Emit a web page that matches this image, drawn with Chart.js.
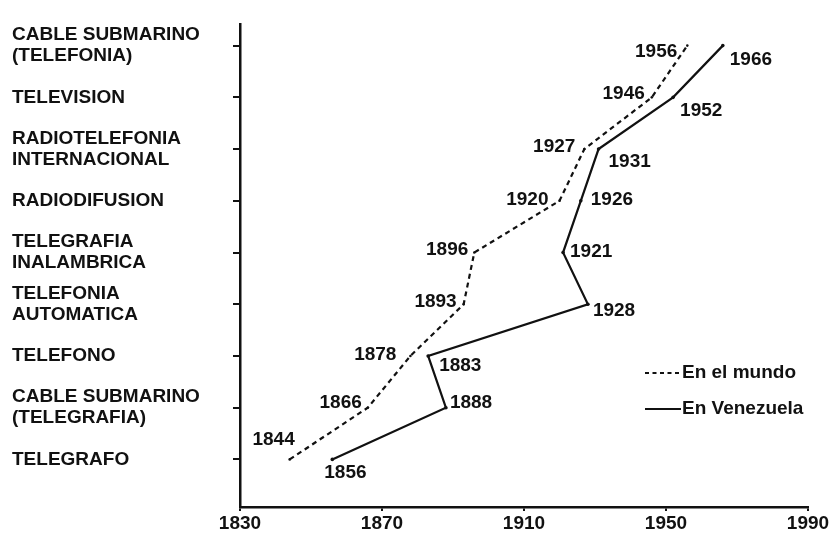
<!DOCTYPE html>
<html>
<head>
<meta charset="utf-8">
<script src="https://cdn.jsdelivr.net/npm/chart.js@4/dist/chart.umd.min.js"></script>
<style>
  html, body { margin: 0; padding: 0; background: #ffffff; }
  #wrap { width: 835px; height: 537px; position: relative; }
</style>
</head>
<body>
<div id="wrap"><canvas id="c" width="835" height="537"></canvas></div>
<script>
// ---- data ----
const categories = [
  ["TELEGRAFO"],
  ["CABLE SUBMARINO", "(TELEGRAFIA)"],
  ["TELEFONO"],
  ["TELEFONIA", "AUTOMATICA"],
  ["TELEGRAFIA", "INALAMBRICA"],
  ["RADIODIFUSION"],
  ["RADIOTELEFONIA", "INTERNACIONAL"],
  ["TELEVISION"],
  ["CABLE SUBMARINO", "(TELEFONIA)"]
];
const worldYears     = [1844, 1866, 1878, 1893, 1896, 1920, 1927, 1946, 1956];
const venezuelaYears = [1856, 1888, 1883, 1928, 1921, 1926, 1931, 1952, 1966];
const xTickLabels    = [1830, 1870, 1910, 1950, 1990];
const seriesNames    = ["En el mundo", "En Venezuela"];

// ---- label placement (style only): [align, dx, dy] ----
const worldLabelPlace = [
  ["right", 5, -20], ["right", -6, -5], ["right", -14, -1], ["right", -7, -2],
  ["right", -6, -3], ["right", -11, -1], ["right", -9, -2], ["right", -7, -4], ["right", -10, 6]
];
const venLabelPlace = [
  ["left", -8, 13], ["left", 4, -5], ["left", 11, 10], ["left", 5, 7],
  ["left", 7, -1], ["left", 10, -1], ["left", 10, 13], ["left", 7, 13], ["left", 7, 14]
];

const FONT = "'Liberation Sans', Arial, Helvetica, sans-serif";
const INK = "#111111";
const FS = 19;

const worldPts = worldYears.map((yr, i) => ({ x: yr, y: i + 1 }));
const venPts = venezuelaYears.map((yr, i) => ({ x: yr, y: i + 1 }));

const yearLabels = {
  id: 'yearLabels',
  afterDatasetsDraw(chart) {
    const ctx = chart.ctx;
    ctx.save();
    ctx.font = "bold " + FS + "px " + FONT;
    ctx.fillStyle = INK;
    ctx.textBaseline = "middle";
    const sets = [[0, worldYears, worldLabelPlace], [1, venezuelaYears, venLabelPlace]];
    sets.forEach(([di, yrs, place]) => {
      const meta = chart.getDatasetMeta(di);
      meta.data.forEach((el, i) => {
        const p = place[i];
        ctx.textAlign = p[0];
        ctx.fillText(String(yrs[i]), el.x + p[1], el.y + p[2]);
      });
    });
    ctx.restore();
  }
};

const customLegend = {
  id: 'customLegend',
  afterDraw(chart) {
    const ctx = chart.ctx;
    ctx.save();
    ctx.strokeStyle = INK;
    ctx.lineWidth = 2;
    ctx.setLineDash([4, 3.5]);
    ctx.beginPath(); ctx.moveTo(645, 373); ctx.lineTo(681, 373); ctx.stroke();
    ctx.setLineDash([]);
    ctx.beginPath(); ctx.moveTo(645, 409); ctx.lineTo(681, 409); ctx.stroke();
    ctx.font = "bold " + FS + "px " + FONT;
    ctx.fillStyle = INK;
    ctx.textAlign = "left";
    ctx.textBaseline = "middle";
    ctx.fillText(seriesNames[0], 682, 373);
    ctx.fillText(seriesNames[1], 682, 409);
    ctx.restore();
  }
};

new Chart(document.getElementById('c'), {
  type: 'scatter',
  data: {
    datasets: [
      {
        label: seriesNames[0],
        data: worldPts,
        showLine: true,
        borderColor: INK,
        backgroundColor: INK,
        borderWidth: 2.2,
        borderDash: [5, 4],
        pointRadius: 1.3,
        pointBorderWidth: 0,
        tension: 0
      },
      {
        label: seriesNames[1],
        data: venPts,
        showLine: true,
        borderColor: INK,
        backgroundColor: INK,
        borderWidth: 2.2,
        pointRadius: 1.8,
        pointBorderWidth: 0,
        tension: 0
      }
    ]
  },
  options: {
    responsive: false,
    animation: false,
    devicePixelRatio: 1,
    layout: { padding: { left: 12, right: 27, top: 12, bottom: 0 } },
    plugins: { legend: { display: false }, tooltip: { enabled: false } },
    scales: {
      x: {
        type: 'linear',
        min: xTickLabels[0],
        max: xTickLabels[xTickLabels.length - 1],
        afterBuildTicks(scale) { scale.ticks = xTickLabels.map(v => ({ value: v })); },
        afterFit(scale) { scale.height = 30; },
        border: { display: true, color: INK, width: 2.5 },
        grid: { display: true, drawOnChartArea: false, drawTicks: true, tickLength: 4, color: INK, lineWidth: 2 },
        ticks: {
          color: INK,
          padding: 1,
          maxRotation: 0,
          autoSkip: false,
          font: { family: FONT, size: FS, weight: 'bold' },
          callback: (v) => String(v)
        }
      },
      y: {
        type: 'linear',
        min: 0.08,
        max: 9.42,
        afterBuildTicks(scale) { scale.ticks = categories.map((c, i) => ({ value: i + 1 })); },
        afterFit(scale) { scale.width = 228; },
        border: { display: true, color: INK, width: 2.5 },
        grid: { display: true, drawOnChartArea: false, drawTicks: true, tickLength: 7, color: INK, lineWidth: 2 },
        ticks: {
          color: INK,
          crossAlign: 'far',
          autoSkip: false,
          font: { family: FONT, size: FS, weight: 'bold', lineHeight: 1.1 },
          callback: (v) => categories[Math.round(v) - 1]
        }
      }
    }
  },
  plugins: [yearLabels, customLegend]
});
</script>
</body>
</html>
